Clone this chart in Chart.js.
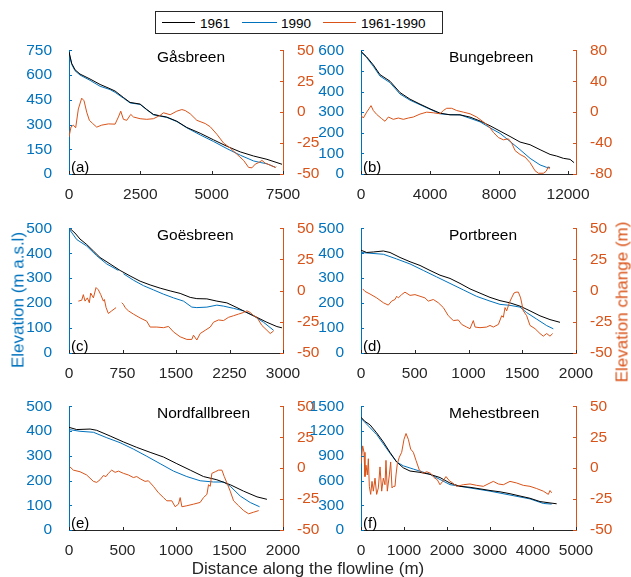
<!DOCTYPE html>
<html>
<head>
<meta charset="utf-8">
<script src="https://cdn.jsdelivr.net/npm/chart.js@4.4.0/dist/chart.umd.min.js"></script>
<style>
html, body { margin: 0; padding: 0; background: #fff; }
body { width: 631px; height: 577px; position: relative; overflow: hidden; font-family: "Liberation Sans", Arial, sans-serif; }
canvas { position: absolute; }
.lab { position: absolute; white-space: nowrap; font-size: 17px; line-height: 17px; z-index: 5; }
#legend { position: absolute; left: 155px; top: 11px; width: 288px; height: 23px; box-sizing: border-box; border: 1px solid #262626; background: #fff; z-index: 5; }
#legend .ln { position: absolute; top: 10px; height: 1px; }
#legend .tx { position: absolute; top: 5px; font-size: 13.5px; line-height: 13.5px; color: #000; white-space: nowrap; }
</style>
</head>
<body>
<div id="legend">
  <span class="ln" style="left:6px;width:33px;background:#000"></span><span class="tx" style="left:44px">1961</span>
  <span class="ln" style="left:86px;width:35px;background:#0072BD"></span><span class="tx" style="left:125px">1990</span>
  <span class="ln" style="left:167px;width:33px;background:#D95319"></span><span class="tx" style="left:205px">1961-1990</span>
</div>
<div class="lab" style="left:18px;top:300px;color:#0072BD;transform:translate(-50%,-50%) rotate(-90deg)">Elevation (m a.s.l)</div>
<div class="lab" style="left:622px;top:302px;color:#D95319;transform:translate(-50%,-50%) rotate(-90deg)">Elevation change (m)</div>
<div class="lab" style="left:308px;top:560px;color:#262626;transform:translateX(-50%)">Distance along the flowline (m)</div>
<script>
// (a) Gåsbreen
const A_X61 = [0,94,211,386,737,1088,1439,1615,1907,2141,2492,2726,2960,3428,3779,4130,4598,5066,5534,6002,6470,6938,7289,7465];
const A_Y61 = [740,671,632,606,576,543,517,503,464,434,424,391,361,345,320,282,247,207,168,134,109,89,69,59];
const A_X90 = [0,94,211,386,737,1088,1439,1615,1907,2141,2492,2726,2960,3428,3779,4130,4598,5066,5534,6002,6470,6700,6938,7231];
const A_Y90 = [736,665,626,600,568,532,512,495,460,431,422,389,359,343,318,280,237,197,154,114,79,70,62,41];
const A_XD = [0,70,152,234,328,445,527,620,714,831,971,1146,1380,1615,1732,1814,1907,2024,2165,2258,2492,2726,2960,3194,3311,3545,3779,3955,4072,4247,4481,4774,4949,5183,5417,5651,5885,6119,6295,6412,6529,6646,6763,6880,7055,7231,7266];
const A_YD = [-20,-12,-10.5,-12.6,2.6,11.3,9.2,0,-6.6,-9.2,-12.1,-10.5,-9.5,-9.7,-3.9,0.8,-5.8,-6.6,-1.8,-3.9,-5.3,-5.8,-5.3,-2.6,-0.5,-2.1,0.8,2.1,1.3,-1.3,-6.6,-9.2,-11.8,-17.9,-25,-29,-34,-39,-44.7,-45,-42,-40.8,-39,-41.3,-42.9,-44.7,-44];

// (b) Bungebreen
const B_X61 = [0,328,715,1101,1681,2261,2841,3420,4000,4580,5159,5739,6319,6899,7478,8058,8638,9217,9797,10377,10957,11343,11729,12116,12348];
const B_Y61 = [595,568,529,482,450,395,363,339,316,295,287,287,276,257,234,208,182,155,142,118,95,87,76,71,55];
const B_X90 = [0,328,715,1101,1681,2261,2841,3420,4000,4580,5159,5739,6319,6899,7478,8058,8638,9217,9797,10377,10764,10957];
const B_Y90 = [592,565,522,475,443,388,358,336,314,292,288,287,270,253,224,197,158,118,76,44,32,32];
const B_XD = [0,135,328,483,580,715,908,1198,1391,1585,1874,2164,2454,2744,3034,3420,3807,4193,4580,4773,4966,5256,5546,5932,6319,6705,7092,7382,7671,7961,8251,8541,8734,8928,9217,9507,9797,10087,10280,10570,10725,10860,10918];
const B_YD = [-4.2,-7.6,0,5,8.4,2.1,-2.9,-8.4,-11.8,-6.3,-9.3,-7.6,-9.3,-7.6,-6.3,-2.5,0,-0.8,-2.1,2.1,5,5,2.1,0,-2.1,-6.3,-12.6,-17.7,-26.1,-32.8,-35.8,-34.5,-40,-49.7,-54.7,-58.1,-65.3,-75.8,-79,-79,-76.6,-70.7,-73.7];

// (c) Goësbreen
const C_X61 = [10,84,154,248,342,435,576,716,856,997,1137,1278,1418,1558,1699,1792,1933,2073,2213,2354,2494,2634,2775,2915,2985];
const C_Y61 = [500,481,457,435,409,383,357,331,309,288,273,260,249,239,223,218,217,208,201,182,162,143,123,106,101];
const C_X90 = [10,108,248,388,529,693,728,763,903,1044,1184,1324,1465,1605,1722,1792,1933,2073,2166,2307,2447,2588,2728,2868];
const C_Y90 = [494,455,429,390,357,331,null,318,292,270,253,236,221,208,184,182,184,192,188,179,169,149,123,91];
const C_XD = [131,178,201,225,257,285,304,342,379,412,445,482,496,520,552,599,660,700,739,763,786,833,903,997,1090,1137,1231,1324,1395,1465,1558,1652,1722,1745,1792,1839,1909,1980,2026,2096,2166,2236,2307,2377,2447,2494,2541,2588,2634,2704,2775,2821,2868];
const C_YD = [-8.4,-7.7,-3.2,-8.4,-5.8,-9.7,-1.9,-5.8,2.5,0.6,-3.2,-8.4,-7.1,-13.6,-18.3,-16.2,-13.6,null,-9.7,-11,-13.6,-16.2,-18.8,-21.9,-24.5,-29.2,-29.2,-29.7,-28.7,-33.1,-37,-39.1,-39.1,-35.7,-39.6,-34.4,-31.8,-29.2,-25.3,-23.5,-24,-21.4,-20.1,-18.8,-17.5,-16.2,-17.5,-20.1,-21.4,-27.9,-31.8,-34.4,-32.3];

// (d) Portbreen
const D_X61 = [0,53,115,208,270,363,456,549,642,735,828,921,1014,1107,1200,1293,1386,1479,1572,1665,1758,1851];
const D_Y61 = [412,403,405,409,403,383,366,351,331,312,299,279,257,240,223,210,201,188,169,149,134,123];
const D_X90 = [0,84,208,332,456,580,704,828,952,1076,1200,1293,1386,1479,1541,1634,1727,1789];
const D_Y90 = [403,400,396,377,357,331,305,279,253,227,208,195,191,184,162,136,110,97];
const D_XD = [16,37,84,146,208,254,285,316,332,347,378,409,456,502,549,595,626,673,719,766,812,859,905,937,983,1014,1045,1061,1107,1169,1200,1231,1278,1309,1324,1340,1355,1380,1401,1423,1442,1464,1485,1510,1541,1572,1619,1665,1696,1727,1758,1783];
const D_YD = [1.4,-0.6,-2.7,-5.8,-9.7,-11.6,-8.4,-7.1,-4.5,-5.8,-3.2,-1.2,-3.8,-3.2,-4.5,-5.8,-8.4,-7.1,-9.7,-13.6,-20.1,-24,-23.5,-27.1,-29.2,-30.5,-24,-29.2,-29.7,-29.2,-27.9,-29.2,-27.1,-20.1,-21.4,-13.6,-16.2,-9.7,-5.8,-1.9,-1.2,-1.2,-5.8,-16.2,-20.1,-27.9,-30.5,-34.4,-36.5,-34.4,-36.5,-34.4];

// (e) Nordfallbreen
const E_X61 = [0,72,197,259,384,509,633,758,883,1008,1133,1257,1382,1507,1632,1757,1850];
const E_Y61 = [415,406,408,403,380,356,334,314,295,268,242,216,203,183,157,134,124];
const E_X90 = [0,103,228,353,477,602,727,852,977,1101,1226,1351,1445,1507,1601,1694,1781];
const E_Y90 = [406,399,395,373,353,327,298,268,238,216,199,194,194,177,137,111,94];
const E_XD = [9,41,103,165,228,259,290,321,346,368,399,431,462,509,555,602,633,665,711,742,789,836,883,914,961,992,1023,1039,1055,1101,1164,1226,1257,1289,1304,1320,1335,1367,1398,1429,1451,1476,1507,1538,1585,1632,1679,1726,1773];
const E_YD = [1,-1.6,-2.9,-5.5,-10.7,-11.5,-9.4,-6,-6.8,-4.2,-1.6,-3.4,-2.4,-4.2,-5.5,-7.6,-6.8,-8.6,-10.7,-10.2,-14.7,-19.9,-23.8,-26.4,-26.4,-31.2,-29.1,-23.8,-31.2,-30.4,-29.1,-27.7,-23.8,-21.2,-13.4,-14.7,-4.2,-2.9,-1.6,-1.6,-6.8,-12,-18.6,-26.4,-30.4,-34.3,-36.9,-35.6,-34.3];

// (f) Mehestbreen
const F_X61 = [0,93,209,364,519,674,829,984,1140,1372,1605,1837,2070,2302,2535,2767,3000,3233,3465,3698,3930,4163,4395,4550];
const F_Y61 = [1367,1316,1276,1178,1068,942,825,754,715,699,675,636,569,530,518,499,479,463,440,412,385,345,328,318];
const F_X90 = [0,364,674,829,984,1217,1605,2070,2535,3000,3465,3930,4240,4434];
const F_Y90 = [1355,1158,931,825,778,739,675,550,510,471,424,377,322,314];
const F_XD = [0,39,70,93,116,147,171,194,225,256,287,326,364,403,442,481,519,558,581,612,659,690,721,752,791,814,845,891,946,1000,1047,1101,1155,1217,1279,1357,1450,1527,1620,1698,1775,1837,1899,1977,2054,2132,2225,2380,2535,2690,2845,3000,3078,3194,3310,3465,3620,3775,3930,4085,4240,4357,4395,4434];
const F_YD = [3.7,18,12.8,-6.8,2.4,-5.5,7.6,-14.7,-21.2,-10.7,-18.6,-8.1,-21.2,-16,1,-18.6,-8.1,-13.4,6.3,-18.6,-5.5,5,-16,-14.7,-14.7,-5.5,3.7,8.9,12.8,23.3,28,23.3,15.4,12.8,6.3,-1.6,-4.2,-2.9,-4.2,-7.6,-9.4,-13.4,-10.7,-6.8,-10.2,-12,-14.7,-13.4,-12.8,-13.9,-14.7,-12,-10.7,-12.8,-13.4,-10.7,-12,-13.9,-14.7,-16.5,-18.6,-21.2,-18.1,-19.9];

// axis ticks
const X_TICKS = {
  a: [0, 2500, 5000, 7500],
  b: [0, 4000, 8000, 12000],
  c: [0, 750, 1500, 2250, 3000],
  d: [0, 500, 1000, 1500, 2000],
  e: [0, 500, 1000, 1500, 2000],
  f: [0, 1000, 2000, 3000, 4000, 5000],
};
const YL_TICKS = {
  a: [0, 150, 300, 450, 600, 750],
  b: [0, 100, 200, 300, 400, 500, 600],
  c: [0, 100, 200, 300, 400, 500],
  d: [0, 100, 200, 300, 400, 500],
  e: [0, 100, 200, 300, 400, 500],
  f: [0, 300, 600, 900, 1200, 1500],
};
const YR_TICKS = {
  a: [-50, -25, 0, 25, 50],
  b: [-80, -40, 0, 40, 80],
  c: [-50, -25, 0, 25, 50],
  d: [-50, -25, 0, 25, 50],
  e: [-50, -25, 0, 25, 50],
  f: [-50, -25, 0, 25, 50],
};

const BLUE = "#0072BD";
const ORANGE = "#D95319";
const DARK = "#262626";
const FONT = '"Liberation Sans", Arial, sans-serif';
const TICK = 3;
const PAD_L = 60, PAD_R = 60, PAD_T = 15, PAD_B = 12, X_H = 30;

const PANELS = [
  { key: "a", title: "Gåsbreen", box: [69, 47, 283, 174], xmax: 7500, x61: A_X61, y61: A_Y61, x90: A_X90, y90: A_Y90, xd: A_XD, yd: A_YD },
  { key: "b", title: "Bungebreen", box: [361, 47, 576, 174], xmax: 12460, x61: B_X61, y61: B_Y61, x90: B_X90, y90: B_Y90, xd: B_XD, yd: B_YD },
  { key: "c", title: "Goësbreen", box: [69, 225, 283, 353], xmax: 3000, x61: C_X61, y61: C_Y61, x90: C_X90, y90: C_Y90, xd: C_XD, yd: C_YD },
  { key: "d", title: "Portbreen", box: [361, 225, 576, 353], xmax: 2000, x61: D_X61, y61: D_Y61, x90: D_X90, y90: D_Y90, xd: D_XD, yd: D_YD },
  { key: "e", title: "Nordfallbreen", box: [69, 403, 283, 530], xmax: 2000, x61: E_X61, y61: E_Y61, x90: E_X90, y90: E_Y90, xd: E_XD, yd: E_YD },
  { key: "f", title: "Mehestbreen", box: [361, 403, 576, 530], xmax: 5000, x61: F_X61, y61: F_Y61, x90: F_X90, y90: F_Y90, xd: F_XD, yd: F_YD },
];

function zip(xs, ys) {
  return xs.map((x, i) => ({ x, y: ys[i] }));
}

function fixedTicks(list) {
  return (scale) => { scale.ticks = list.map((value) => ({ value })); };
}

// inward tick marks, title and panel letter
function decoPlugin(p) {
  return {
    id: "deco",
    afterDatasetsDraw(chart) {
      const { ctx, chartArea: a, scales } = chart;
      ctx.save();
      ctx.lineWidth = 1;
      const marks = (scale, color, draw) => {
        ctx.strokeStyle = color;
        scale.ticks.forEach((t) => {
          const px = Math.round(scale.getPixelForValue(t.value)) + 0.5;
          ctx.beginPath();
          draw(px);
          ctx.stroke();
        });
      };
      marks(scales.x, DARK, (px) => { ctx.moveTo(px, a.bottom); ctx.lineTo(px, a.bottom - TICK); });
      marks(scales.yL, BLUE, (py) => { ctx.moveTo(a.left, py); ctx.lineTo(a.left + TICK, py); });
      marks(scales.yR, ORANGE, (py) => { ctx.moveTo(a.right, py); ctx.lineTo(a.right - TICK, py); });

      ctx.fillStyle = "#000";
      ctx.textBaseline = "alphabetic";
      ctx.textAlign = "left";
      ctx.font = `15.5px ${FONT}`;
      ctx.fillText(p.title, a.left + 88, a.top + 11.5);
      ctx.font = `15px ${FONT}`;
      ctx.fillText(`(${p.key})`, a.left + 2, a.bottom - 2.5);
      ctx.restore();
    },
  };
}

function makePanel(p) {
  const w = p.box[2] - p.box[0];
  const h = p.box[3] - p.box[1];
  const cv = document.createElement("canvas");
  cv.width = w + PAD_L + PAD_R;
  cv.height = h + PAD_T + X_H + PAD_B;
  cv.style.left = p.box[0] - PAD_L + "px";
  cv.style.top = p.box[1] - PAD_T + "px";
  cv.style.width = cv.width + "px";
  cv.style.height = cv.height + "px";
  document.body.appendChild(cv);

  const tickFont = { family: FONT, size: 15.5 };
  const label = (v) => String(v);

  new Chart(cv, {
    type: "line",
    data: {
      datasets: [
        { label: "1961-1990", data: zip(p.xd, p.yd), borderColor: ORANGE, yAxisID: "yR" },
        { label: "1961", data: zip(p.x61, p.y61), borderColor: "#000", yAxisID: "yL" },
        { label: "1990", data: zip(p.x90, p.y90), borderColor: BLUE, yAxisID: "yL" },
      ],
    },
    options: {
      responsive: false,
      animation: false,
      devicePixelRatio: 1,
      spanGaps: false,
      layout: { padding: { top: PAD_T, left: 0, right: 0, bottom: PAD_B } },
      elements: {
        point: { radius: 0, hoverRadius: 0 },
        line: { borderWidth: 1, tension: 0, fill: false },
      },
      plugins: { legend: { display: false }, tooltip: { enabled: false } },
      scales: {
        x: {
          type: "linear",
          position: "bottom",
          min: 0,
          max: p.xmax,
          afterBuildTicks: fixedTicks(X_TICKS[p.key]),
          afterFit: (s) => { s.height = X_H; },
          grid: { display: false },
          border: { display: true, color: DARK, width: 1 },
          ticks: { autoSkip: false, maxRotation: 0, minRotation: 0, color: DARK, font: tickFont, padding: 3, callback: label },
        },
        yL: {
          type: "linear",
          position: "left",
          min: YL_TICKS[p.key][0],
          max: YL_TICKS[p.key][YL_TICKS[p.key].length - 1],
          afterBuildTicks: fixedTicks(YL_TICKS[p.key]),
          afterFit: (s) => { s.width = PAD_L; },
          grid: { display: false },
          border: { display: true, color: BLUE, width: 1 },
          ticks: { autoSkip: false, color: BLUE, font: tickFont, padding: 9, callback: label },
        },
        yR: {
          type: "linear",
          position: "right",
          min: YR_TICKS[p.key][0],
          max: YR_TICKS[p.key][YR_TICKS[p.key].length - 1],
          afterBuildTicks: fixedTicks(YR_TICKS[p.key]),
          afterFit: (s) => { s.width = PAD_R; },
          grid: { display: false },
          border: { display: true, color: ORANGE, width: 1 },
          ticks: { autoSkip: false, color: ORANGE, font: tickFont, padding: 6, callback: label },
        },
      },
    },
    plugins: [decoPlugin(p)],
  });
}

PANELS.forEach(makePanel);
</script>
</body>
</html>
